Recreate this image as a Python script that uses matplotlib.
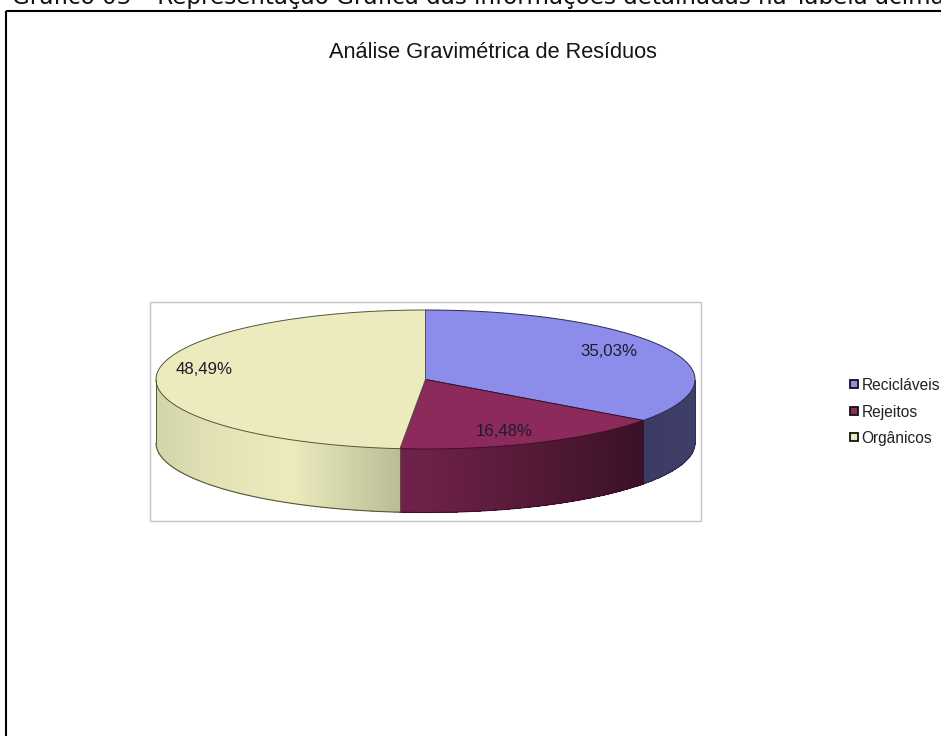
import numpy as np
import matplotlib
matplotlib.use("Agg")
import matplotlib.pyplot as plt
from matplotlib.collections import PolyCollection
from matplotlib.colors import to_rgb
from matplotlib.patches import Polygon, Rectangle

categories = ["Recicláveis", "Rejeitos", "Orgânicos"]
shares = [35.03, 16.48, 48.49]
labels = ["35,03%", "16,48%", "48,49%"]
top_colors = ["#8c8ceb", "#8c2a5c", "#ebebbd"]
edge_colors = ["#2a2a55", "#3c1028", "#55553c"]
label_pos = [(609, 352), (504, 432), (204, 369)]

CX, CY, A, B, DEPTH = 425.5, 379.5, 269.5, 69.5, 63.5


def rim(theta):
    """Project a clockwise-from-north pie angle onto the tilted ellipse."""
    return CX + A * np.sin(theta), CY - B * np.cos(theta)


def shade(theta):
    """Brightness of the side wall: light at the left, dark towards the right."""
    x = np.sin(theta)
    return np.interp(x, [-1.0, -0.8, -0.5, -0.1, 0.0, 0.8, 1.0], [0.90, 0.96, 1.0, 0.80, 0.78, 0.42, 0.45])


fig = plt.figure(figsize=(9.41, 7.36), dpi=100, facecolor="white")
ax = fig.add_axes([0, 0, 1, 1])
ax.set_xlim(0, 941)
ax.set_ylim(736, 0)
ax.axis("off")

# Outer frame and plot-area box
ax.add_patch(Rectangle((6.5, 10.5), 945, 740, fill=False, ec="black", lw=1.5))
ax.add_patch(Rectangle((150.5, 301.5), 551, 219, fill=False, ec="#c4c4c4", lw=1.0))

ax.text(12, 4, "Gráfico 03 – Representação Gráfica das informações detalhadas na Tabela acima",
        family="DejaVu Sans", fontsize=16.6, color="#111111", ha="left", va="baseline", clip_on=True)
ax.text(492.5, 52.5, "Análise Gravimétrica de Resíduos", family="Liberation Sans",
        fontsize=15.7, color="#151515", ha="center", va="center")

start = 0.0
for share, top, edge in zip(shares, top_colors, edge_colors):
    stop = start + 2 * np.pi * share / sum(shares)
    t = np.linspace(start, stop, 200)
    x, y = rim(t)

    # Side wall, drawn only where the rim faces the viewer
    vis = t[(t > np.pi / 2) & (t < 3 * np.pi / 2)]
    if vis.size:
        strips = np.linspace(vis[0], vis[-1], 90)
        polys, cols = [], []
        base = np.array(to_rgb(top))
        for a0, a1 in zip(strips[:-1], strips[1:]):
            x0, y0 = rim(a0)
            x1, y1 = rim(a1)
            polys.append([(x0, y0), (x1, y1), (x1, y1 + DEPTH), (x0, y0 + DEPTH)])
            cols.append(base * shade((a0 + a1) / 2))
        ax.add_collection(PolyCollection(polys, facecolors=cols, edgecolors="face",
                                         linewidths=0, antialiased=False))
        xv, yv = rim(vis)
        ax.plot(xv, yv + DEPTH, color=edge, lw=0.8)
        for a in (vis[0], vis[-1]):
            xe, ye = rim(a)
            ax.plot([xe, xe], [ye, ye + DEPTH], color=edge, lw=0.7)

    # Top face of the slice
    ax.add_patch(Polygon(np.column_stack([np.r_[CX, x], np.r_[CY, y]]), closed=True,
                         fc=top, ec=edge, lw=0.7, joinstyle="round"))
    start = stop

for text, (lx, ly) in zip(labels, label_pos):
    ax.text(lx, ly, text, family="Liberation Sans", fontsize=12.1, color="#1c1c2c",
            ha="center", va="center")

# Legend
for name, colour, ly in zip(categories, top_colors, [384, 411, 437]):
    ax.add_patch(Rectangle((850, ly - 4), 8, 8, fc=colour, ec="#111111", lw=1.3))
    ax.text(861.5, ly + 1, name, family="Liberation Sans", fontsize=11.2, color="#222222",
            ha="left", va="center")

fig.savefig("out.png", dpi=100, facecolor="white")
